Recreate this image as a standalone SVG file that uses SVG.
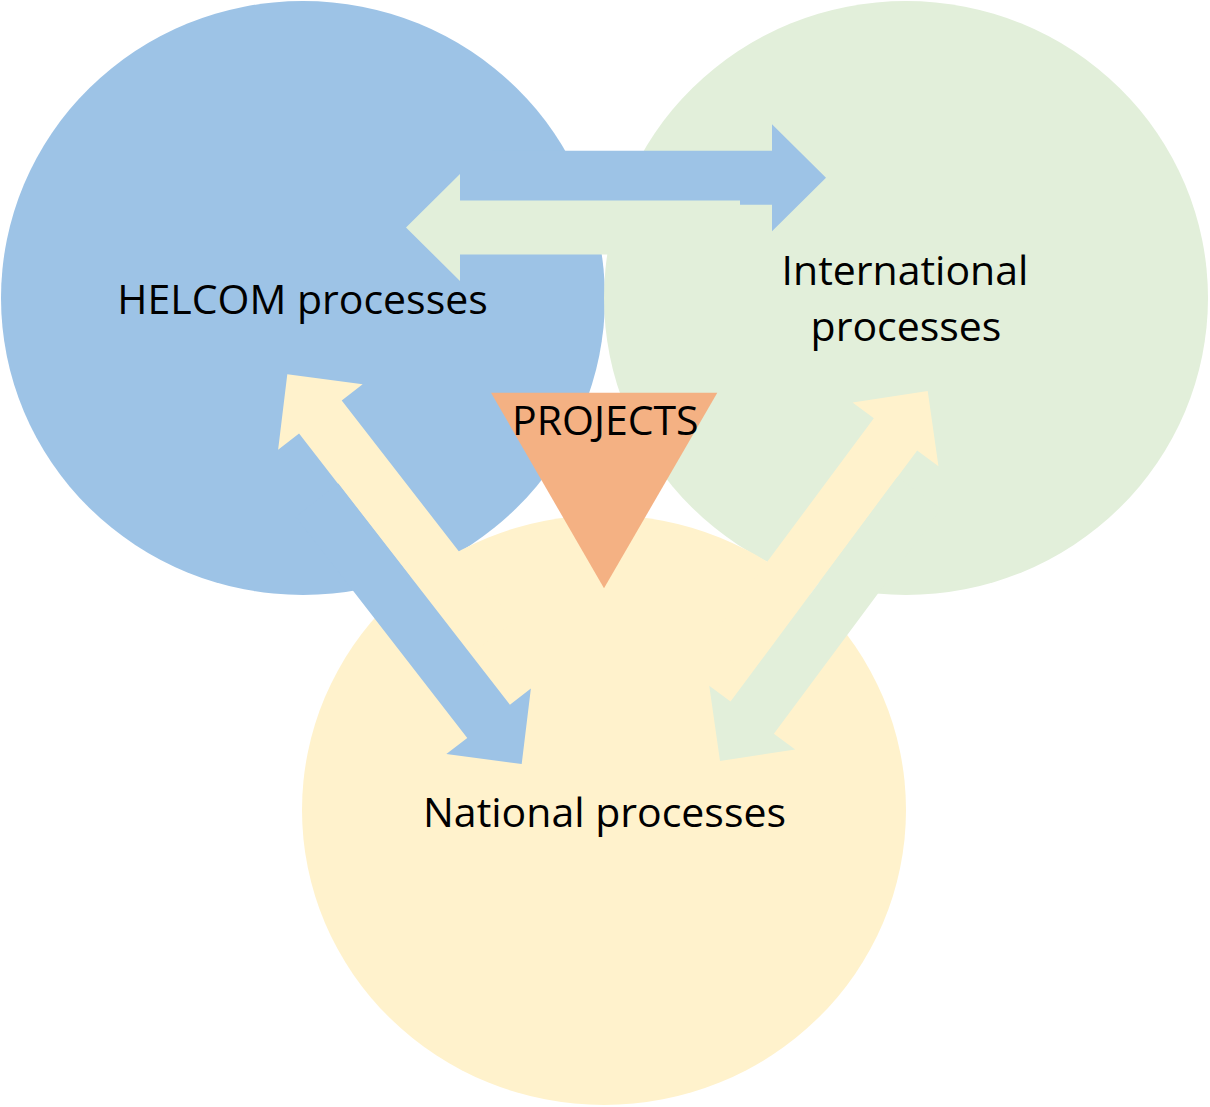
<svg xmlns="http://www.w3.org/2000/svg" xmlns:xlink="http://www.w3.org/1999/xlink" width="1210" height="1107" viewBox="0 0 1210 1107">
  <style>
    .blue { fill: #9DC3E6; }
    .green { fill: #E2EFDA; }
    .yellow { fill: #FFF2CC; }
    .orange { fill: #F4B183; }
    .label { font-family: "Open Sans", "Liberation Sans", sans-serif; font-size: 41px; fill: #000000; text-anchor: middle; }
  </style>
  <defs>
    <polygon id="arrow" points="-334,-27 -54,-27 -54,-53.5 0,0 -54,53.5 -54,27 -334,27"/>
  </defs>
  <rect x="0" y="0" width="1210" height="1107" fill="#FFFFFF"/>
  <g id="helcom">
    <ellipse class="blue" cx="303" cy="298" rx="302" ry="297"/>
  </g>
  <g id="international">
    <ellipse class="green" cx="906" cy="298" rx="302" ry="297"/>
  </g>
  <g id="national">
    <ellipse class="yellow" cx="604" cy="810" rx="302" ry="295"/>
  </g>
  <g id="connectors">
    <use xlink:href="#arrow" class="blue" transform="translate(826,177.7) rotate(0)"/>
    <use xlink:href="#arrow" class="green" transform="translate(406,227.5) rotate(180)"/>
    <use xlink:href="#arrow" class="yellow" transform="translate(287.3,374.3) rotate(-127.8)"/>
    <use xlink:href="#arrow" class="blue" transform="translate(521.7,764) rotate(52.2)"/>
    <use xlink:href="#arrow" class="yellow" transform="translate(927.7,391) rotate(-53.4)"/>
    <use xlink:href="#arrow" class="green" transform="translate(720,761) rotate(126.6)"/>
  </g>
  <g id="labels">
    <text class="label" x="302.5" y="313.5">HELCOM processes</text>
    <text class="label" x="905" y="285">International</text>
    <text class="label" x="906" y="341">processes</text>
    <text class="label" x="604.5" y="826.7">National processes</text>
  </g>
  <g id="projects">
    <polygon class="orange" points="491,392.7 717.3,392.7 604,588.3"/>
    <text class="label" x="605.3" y="435">PROJECTS</text>
  </g>
</svg>
